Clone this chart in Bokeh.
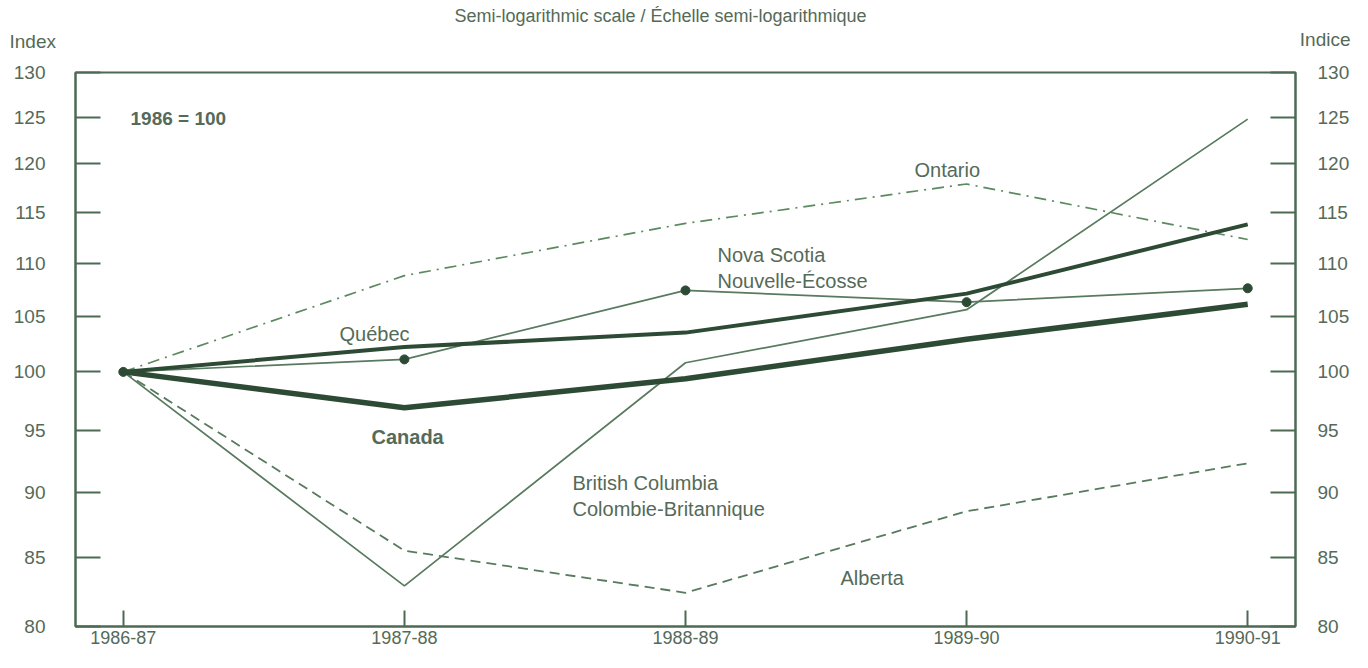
import math
from bokeh.plotting import figure
from bokeh.models import Range1d, FixedTicker, LogAxis, Label, PrintfTickFormatter
from bokeh.embed import file_html
from bokeh.resources import INLINE

# ---- data ----
years = ["1986-87", "1987-88", "1988-89", "1989-90", "1990-91"]
xpos = [0, 1, 2, 3, 4]
canada = [100, 96.9, 99.4, 102.9, 106.1]
quebec = [100, 102.2, 103.5, 107.1, 113.8]
nova_scotia = [100, 101.1, 107.4, 106.3, 107.6]
ontario = [100, 108.8, 113.9, 117.9, 112.3]
british_columbia = [100, 82.9, 100.8, 105.6, 124.8]
alberta = [100, 85.5, 82.4, 88.5, 92.3]
y_ticks = [80, 85, 90, 95, 100, 105, 110, 115, 120, 125, 130]

# ---- style ----
FONT = "Liberation Sans"
TXT = "#556a58"
AX = "#4d6a52"
THICK = "#2d4a34"
THIN = "#587a5e"

W, H = 1352, 652
FL, FR, FT, FB = 75, 57, 72, 26   # frame borders in figure pixels
X0, X1 = -0.17, 4.17
Y0, Y1 = 80, 130

p = figure(width=W, height=H, output_backend="svg", toolbar_location=None,
           x_range=Range1d(X0, X1), y_range=Range1d(Y0, Y1), y_axis_type="log",
           min_border_left=FL, min_border_right=FR, min_border_top=FT, min_border_bottom=FB)
p.background_fill_color = "white"
p.border_fill_color = "white"
p.outline_line_color = AX
p.outline_line_width = 2
p.grid.visible = False

def style_axis(ax, tick_in):
    ax.axis_line_color = AX
    ax.axis_line_width = 2
    ax.major_tick_line_color = AX
    ax.major_tick_line_width = 2
    ax.major_tick_in = tick_in
    ax.major_tick_out = 0
    ax.minor_tick_line_color = None
    ax.major_label_text_font = FONT
    ax.major_label_text_font_size = "19px"
    ax.major_label_text_color = TXT

ya = p.yaxis[0]
ya.ticker = FixedTicker(ticks=y_ticks)
ya.formatter = PrintfTickFormatter(format="%d")
style_axis(ya, 25)
ya.major_label_standoff = 30

ra = LogAxis(ticker=FixedTicker(ticks=y_ticks), formatter=PrintfTickFormatter(format="%d"))
style_axis(ra, 25)
ra.major_label_standoff = 22
p.add_layout(ra, "right")

xa = p.xaxis[0]
xa.ticker = FixedTicker(ticks=xpos)
xa.major_label_overrides = {x: y for x, y in zip(xpos, years)}
style_axis(xa, 16)
xa.major_label_standoff = 4
xa.major_label_text_font_size = "18px"

# lines
p.line(xpos, alberta, line_color=THIN, line_width=1.8, line_dash="10 6")
p.line(xpos, british_columbia, line_color=THIN, line_width=1.7)
p.line(xpos, ontario, line_color="#5c8a60", line_width=1.7, line_dash="12 6 2 6")
p.line(xpos, nova_scotia, line_color=THIN, line_width=1.7)
p.scatter(xpos, nova_scotia, size=9, fill_color=THICK, line_color=THICK)
p.line(xpos, quebec, line_color=THICK, line_width=4)
p.line(xpos, canada, line_color=THICK, line_width=5.5)

# helpers: picture pixel positions -> data coordinates (for annotations only)
fw = W - FL - FR
fh = H - FT - FB
def dx(px):
    return X0 + (px - FL) * (X1 - X0) / fw
def dy(py):
    frac = (H - FB - py) / fh
    return math.exp(math.log(Y0) + frac * (math.log(Y1) - math.log(Y0)))

def lab(text, px, py, size="20px", bold=False, align="left", where=None):
    l = Label(x=dx(px), y=dy(py), text=text, text_font=FONT,
              text_font_size=size, text_color=TXT,
              text_font_style="bold" if bold else "normal",
              text_align=align, text_baseline="middle")
    if where:
        p.add_layout(l, where)
    else:
        p.add_layout(l)

lab("Semi-logarithmic scale / Échelle semi-logarithmique", 660, 15, size="18px", align="center", where="above")
lab("Index", 9, 41, size="19px", where="above")
lab("Indice", 1350, 39, size="19px", align="right", where="above")
lab("1986 = 100", 130, 118, size="19px", bold=True)
lab("Québec", 339, 333)
lab("Canada", 371, 436, bold=True)
lab("Nova Scotia", 717, 254)
lab("Nouvelle-Écosse", 717, 280)
lab("Ontario", 914, 169)
lab("British Columbia", 572, 482)
lab("Colombie-Britannique", 572, 508)
lab("Alberta", 840, 577)

open("out.html", "w").write(file_html(p, INLINE))
